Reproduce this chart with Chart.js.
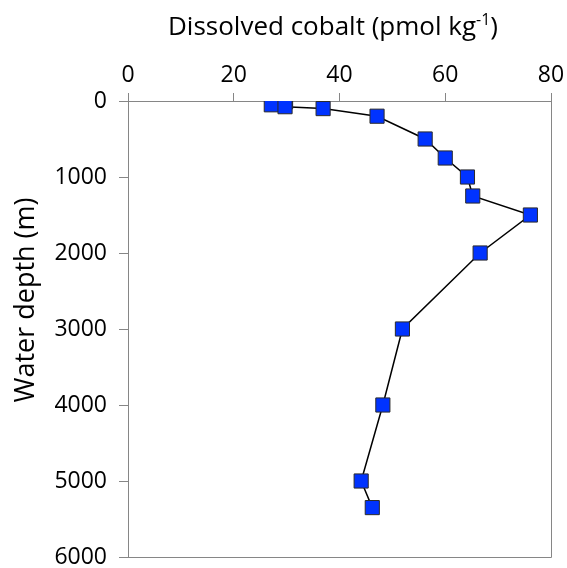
<!DOCTYPE html>
<html>
<head>
<meta charset="utf-8">
<script src="https://cdn.jsdelivr.net/npm/chart.js@4.4.1/dist/chart.umd.min.js"></script>
<style>
html, body { margin: 0; padding: 0; background: #fff; }
#wrap { width: 567px; height: 568px; }
</style>
</head>
<body>
<div id="wrap"><canvas id="myChart"></canvas></div>
<script>
// depth profile
let depths = [10, 25, 50, 75, 100, 200, 500, 750, 1000, 1250, 1500, 2000, 3000, 4000, 5000, 5350];
let cobalt = [29.8, 28.4, 27.1, 29.7, 36.9, 47.1, 56.2, 60.0, 64.2, 65.2, 76.1, 66.6, 51.9, 48.2, 44.1, 46.2];
let xTicks = [0, 20, 40, 60, 80];
let yTicks = [0, 1000, 2000, 3000, 4000, 5000, 6000];

const FONT = "'Open Sans', sans-serif";
const AXIS = '#868686';

// titles (with real superscript) + right/bottom frame
const extras = {
    id: 'extras',
    beforeDatasetsDraw(chart) {
        const { ctx, chartArea: a } = chart;
        ctx.save();
        ctx.strokeStyle = AXIS;
        ctx.lineWidth = 1;
        ctx.beginPath();
        ctx.moveTo(a.right + 0.5, a.top);
        ctx.lineTo(a.right + 0.5, a.bottom + 0.5);
        ctx.lineTo(a.left, a.bottom + 0.5);
        ctx.stroke();
        ctx.restore();
    },
    afterDraw(chart) {
        const ctx = chart.ctx;
        ctx.save();
        ctx.fillStyle = '#000';
        ctx.textBaseline = 'middle';
        // x title
        const big = '26px ' + FONT, small = '16px ' + FONT;
        const p1 = 'Dissolved cobalt (pmol kg', p2 = '-1', p3 = ')';
        ctx.font = big;
        const w1 = ctx.measureText(p1).width, w3 = ctx.measureText(p3).width;
        ctx.font = small;
        const w2 = ctx.measureText(p2).width;
        let x = 333 - (w1 + w2 + w3) / 2;
        const y = 28;
        ctx.textAlign = 'left';
        ctx.font = big;
        ctx.fillText(p1, x, y);
        ctx.font = small;
        ctx.fillText(p2, x + w1, y - 8);
        ctx.font = big;
        ctx.fillText(p3, x + w1 + w2, y);
        // y title
        ctx.translate(26, 300);
        ctx.rotate(-Math.PI / 2);
        ctx.textAlign = 'center';
        ctx.font = '27px ' + FONT;
        ctx.fillText('Water depth (m)', 0, 0);
        ctx.restore();
    }
};

const ctx = document.getElementById('myChart').getContext('2d');
const myChart = new Chart(ctx, {
    type: 'scatter',
    data: {
        datasets: [
            {
                data: depths.map((d, i) => ({ x: cobalt[i], y: d })),
                showLine: true,
                borderColor: '#000',
                borderWidth: 1.5,
                pointStyle: 'rect',
                pointRadius: 10,
                pointHoverRadius: 10,
                pointBackgroundColor: '#0033ff',
                pointBorderColor: '#2b2b2b',
                pointBorderWidth: 1,
            }
        ]
    },
    options: {
        responsive: true,
        maintainAspectRatio: false,
        animation: false,
        layout: { padding: { left: 0, top: 0, right: 16, bottom: 11 } },
        plugins: { legend: { display: false }, tooltip: { enabled: false } },
        scales: {
            x: {
                type: 'linear',
                position: 'top',
                min: 0,
                max: 80,
                afterBuildTicks: s => { s.ticks = xTicks.map(v => ({ value: v })); },
                afterFit: s => { s.height = 101; s.paddingLeft = 0; s.paddingRight = 0; },
                grid: { drawOnChartArea: false, drawTicks: true, tickLength: 8, color: AXIS },
                border: { color: AXIS },
                ticks: { color: '#000', font: { family: FONT, size: 23 }, padding: 4, maxRotation: 0, callback: v => String(v) }
            },
            y: {
                type: 'linear',
                reverse: true,
                min: 0,
                max: 6000,
                afterBuildTicks: s => { s.ticks = yTicks.map(v => ({ value: v })); },
                afterFit: s => { s.width = 128; s.paddingTop = 0; s.paddingBottom = 0; },
                grid: { drawOnChartArea: false, drawTicks: true, tickLength: 9, color: AXIS },
                border: { color: AXIS },
                ticks: { color: '#000', font: { family: FONT, size: 23 }, padding: 12, callback: v => String(v) }
            }
        }
    },
    plugins: [extras]
});
</script>
</body>
</html>
